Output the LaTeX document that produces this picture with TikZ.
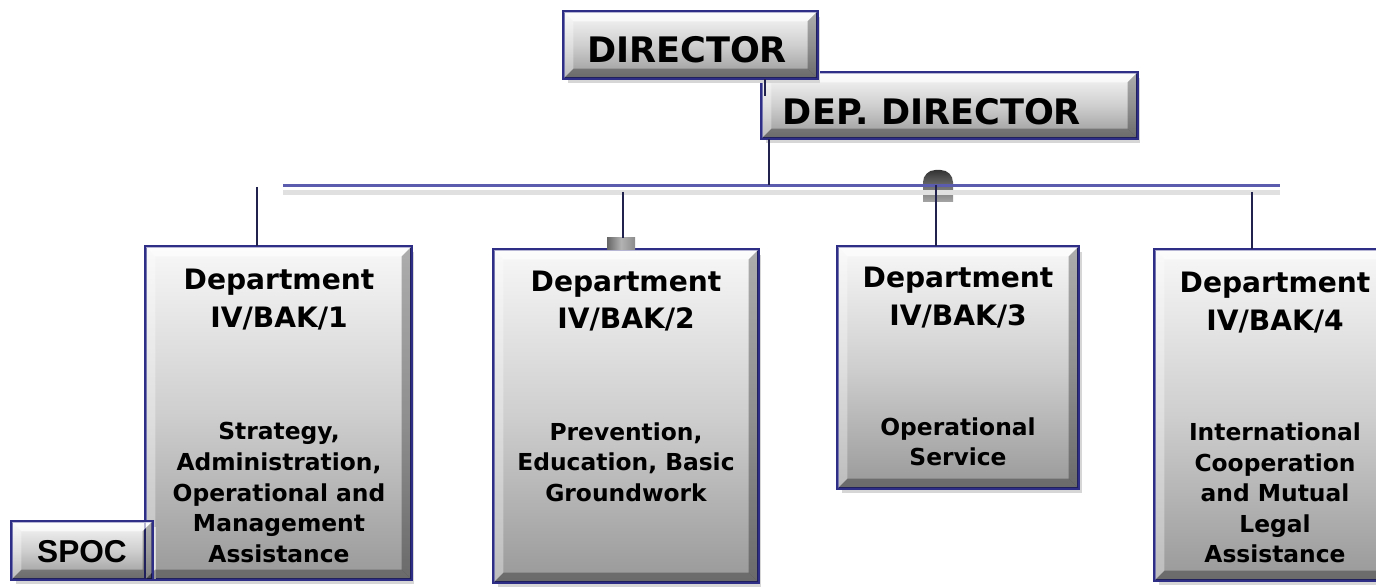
\documentclass[tikz,border=0pt]{standalone}
\usepackage{fontspec}
\setmainfont{DejaVu Sans}
\newfontfamily\spocfont{Liberation Sans}
\usetikzlibrary{shadows}
\definecolor{boxline}{HTML}{2E2E86}
\definecolor{busline}{HTML}{5C5CAE}
\definecolor{dropline}{HTML}{22224E}
\tikzset{
  orgbox/.style={draw=boxline, line width=1.3pt, inner sep=0pt,
    top color=black!3, bottom color=black!40, middle color=black!19,
    drop shadow={shadow xshift=2pt, shadow yshift=-3pt, fill=black!16, opacity=1}},
  headtext/.style={font=\bfseries\fontsize{16}{21.5}\selectfont, align=center, inner sep=0pt},
  bodytext/.style={font=\bfseries\fontsize{13.3}{17.4}\selectfont, align=center, inner sep=0pt},
  toptext/.style={font=\bfseries\fontsize{20}{23}\selectfont, inner sep=0pt},
  droplink/.style={draw=dropline, line width=1pt},
}
% bevelled edges on a box: node name, depth
\newcommand{\bevelbox}[2]{%
  \fill[white, fill opacity=.65] (#1.north west) -- (#1.north east) -- ([shift={(-#2,-#2)}]#1.north east) -- ([shift={(#2,-#2)}]#1.north west) -- cycle;
  \fill[white, fill opacity=.35] (#1.north west) -- ([shift={(#2,-#2)}]#1.north west) -- ([shift={(#2,#2)}]#1.south west) -- (#1.south west) -- cycle;
  \fill[black, fill opacity=.3] (#1.north east) -- ([shift={(-#2,-#2)}]#1.north east) -- ([shift={(-#2,#2)}]#1.south east) -- (#1.south east) -- cycle;
  \fill[black, fill opacity=.3] (#1.south west) -- ([shift={(#2,#2)}]#1.south west) -- ([shift={(-#2,#2)}]#1.south east) -- (#1.south east) -- cycle;
  \draw[boxline, line width=1.3pt] (#1.north west) rectangle (#1.south east);
}

\begin{document}
\begin{tikzpicture}[x=0.02cm, y=-0.02cm]
  \useasboundingbox (0,0) rectangle (1376,587);

  % top of the chart
  \node[orgbox, minimum width=7.5cm, minimum height=1.3cm] (depdir) at (949.5,105.5) {};
  \bevelbox{depdir}{6pt}
  \node[toptext] (depdirtext) at (932,112) {DEP. DIRECTOR};
  \node[orgbox, minimum width=5.06cm, minimum height=1.32cm] (dir) at (690.5,45) {};
  \bevelbox{dir}{6pt}
  \node[toptext] (dirtext) at (687,50) {DIRECTOR};
  \coordinate (dirtap) at (765,96);
  \draw[droplink, line width=.6pt] (dirtap |- dir.south) -- (dirtap);

  % knob on the bus
  \shade[top color=black!80, bottom color=black!35] (923,202) {[rounded corners=7pt] -- (923,170) -- (953,170)} -- (953,202) -- cycle;

  % bus
  \coordinate (busL) at (283,185.5);
  \coordinate (busR) at (1280,185.5);
  \draw[black!12, line width=2.4pt] ([yshift=-4pt]busL) -- ([yshift=-4pt]busR);
  \draw[busline, line width=1.7pt] (busL) -- (busR);
  \coordinate (deptap) at (769,185);
  \draw[droplink] (deptap |- depdir.south) -- (deptap);

  % departments
  \node[orgbox, minimum width=5.3cm, minimum height=6.64cm] (d1) at (278.5,413) {};
  \node[orgbox, minimum width=5.28cm, minimum height=6.64cm] (d2) at (626,416) {};
  \node[orgbox, minimum width=4.8cm, minimum height=4.82cm] (d3) at (958,367.5) {};
  \node[orgbox, minimum width=4.8cm, minimum height=6.6cm] (d4) at (1275,415) {};
  \node[orgbox, minimum width=2.8cm, minimum height=1.14cm] (spoc) at (82,550.5) {};
  \foreach \b in {d1,d2,d3,d4,spoc} {\bevelbox{\b}{6pt}}

  % stub on department 2
  \shade[left color=black!60, right color=black!45, middle color=black!30] (607,238) rectangle (635,249.5);

  % drops from the bus
  \coordinate (tap1) at (257,187);
  \coordinate (tap2) at (623,192);
  \coordinate (tap3) at (936,185);
  \coordinate (tap4) at (1252,192);
  \draw[droplink] (tap1) -- (tap1 |- d1.north);
  \draw[droplink] (tap2) -- (623,238);
  \draw[droplink] (tap3) -- (tap3 |- d3.north);
  \draw[droplink] (tap4) -- (tap4 |- d4.north);

  \node[headtext] (d1head) at (279,299.5) {Department\\IV/BAK/1};
  \node[bodytext] (d1body) at (279,492.5) {Strategy,\\Administration,\\Operational and\\Management\\Assistance};
  \node[headtext] (d2head) at (626,301) {Department\\IV/BAK/2};
  \node[bodytext] (d2body) at (626,462) {Prevention,\\Education, Basic\\Groundwork};
  \node[headtext] (d3head) at (958,297.5) {Department\\IV/BAK/3};
  \node[bodytext] (d3body) at (958,442) {Operational\\Service};
  \node[headtext] (d4head) at (1275,302.5) {Department\\IV/BAK/4};
  \node[bodytext] (d4body) at (1275,493) {International\\Cooperation\\and Mutual\\Legal\\Assistance};
  \node[font=\spocfont\bfseries\fontsize{18}{20}\selectfont, inner sep=0pt] (spoctext) at (82,552) {SPOC};
\end{tikzpicture}
\end{document}
